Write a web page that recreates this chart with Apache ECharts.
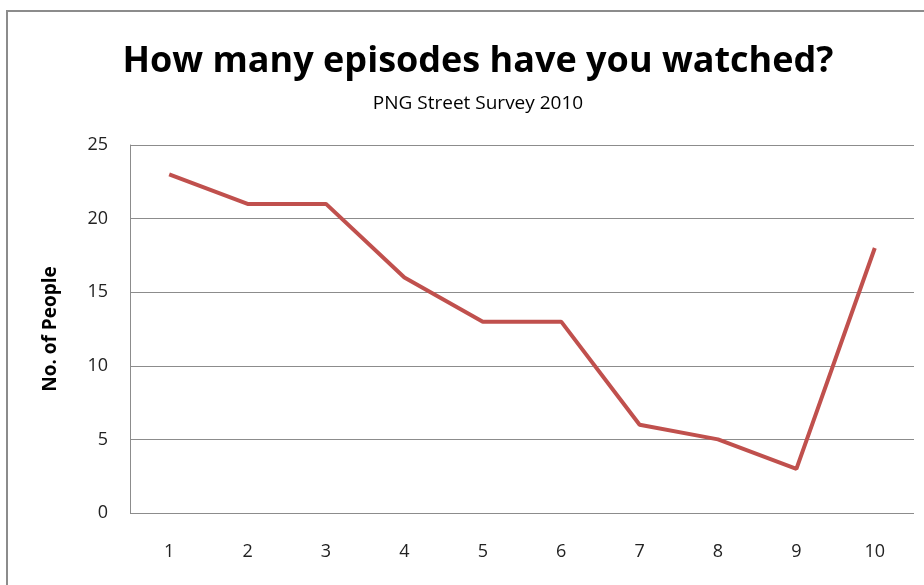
<!DOCTYPE html>
<html><head><meta charset="utf-8">
<script src="https://cdn.jsdelivr.net/npm/echarts@6/dist/echarts.min.js"></script>
<style>html,body{margin:0;padding:0;background:#fff}#c{width:924px;height:585px}</style>
</head><body><div id="c"></div>
<script>
const categories = ['1','2','3','4','5','6','7','8','9','10'];
const people = [23,21,21,16,13,13,6,5,3,18];
const yTicks = [0,5,10,15,20,25];

const chart = echarts.init(document.getElementById('c'));
chart.setOption({
  animation: false,
  backgroundColor: '#fff',
  graphic: [{
    type: 'rect', left: 6, top: 10, z: -1,
    shape: { width: 1000, height: 1000 },
    style: { fill: '#fff', stroke: '#8c8c8c', lineWidth: 2 }
  }],
  title: {
    text: 'How many episodes have you watched?',
    subtext: 'PNG Street Survey 2010',
    left: 473, textAlign: 'center', top: 39, itemGap: 14,
    textStyle: { fontFamily: 'Open Sans', fontWeight: 'bold', fontSize: 36, color: '#000' },
    subtextStyle: { fontFamily: 'Open Sans', fontSize: 19, color: '#000' }
  },
  grid: { left: 130, right: 10, top: 145, bottom: 72 },
  xAxis: {
    type: 'category', data: categories, boundaryGap: true,
    axisLine: { show: false }, axisTick: { show: false },
    axisLabel: { margin: 30, fontFamily: 'Open Sans', fontSize: 18, color: '#222' }
  },
  yAxis: {
    type: 'value', min: yTicks[0], max: yTicks[yTicks.length-1], interval: 5,
    name: 'No. of People', nameLocation: 'middle', nameGap: 70,
    nameTextStyle: { fontFamily: 'Open Sans', fontWeight: 'bold', fontSize: 19, color: '#000' },
    axisLine: { show: true, lineStyle: { color: '#8c8c8c', width: 1 } },
    axisTick: { show: false },
    splitLine: { lineStyle: { color: '#8c8c8c', width: 1 } },
    axisLabel: { margin: 22, fontFamily: 'Open Sans', fontSize: 18, color: '#222' }
  },
  series: [{
    type: 'line', data: people, symbol: 'none',
    lineStyle: { color: '#C0504D', width: 4 }
  }]
});
</script></body></html>
